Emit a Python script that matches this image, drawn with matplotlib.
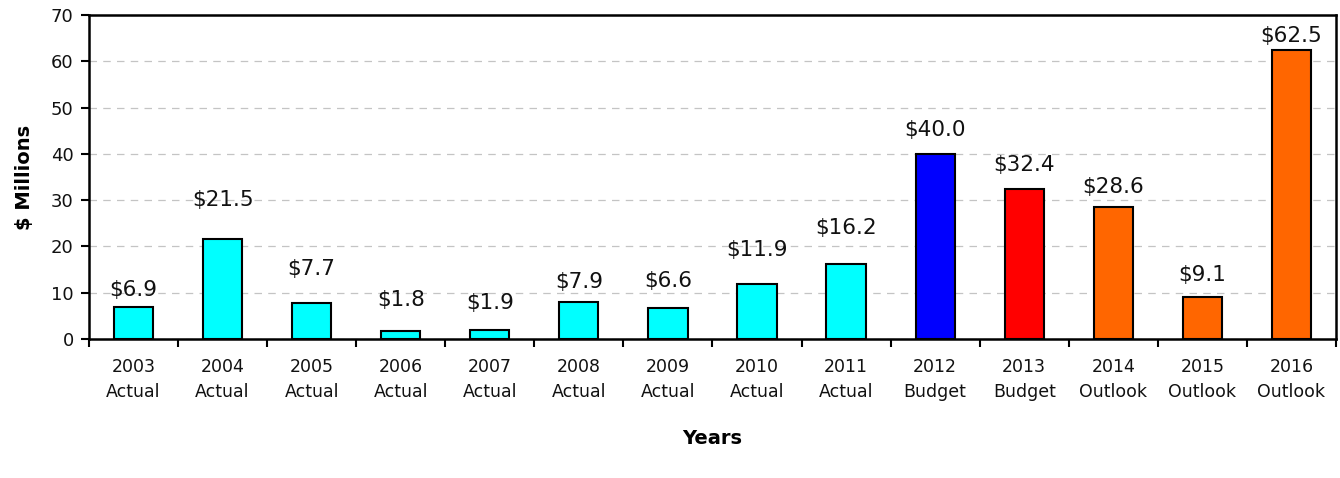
import matplotlib
matplotlib.use("Agg")
import matplotlib.pyplot as plt
import numpy as np

years = ["2003", "2004", "2005", "2006", "2007", "2008", "2009",
         "2010", "2011", "2012", "2013", "2014", "2015", "2016"]
kinds = ["Actual"] * 9 + ["Budget", "Budget", "Outlook", "Outlook", "Outlook"]
values = [6.9, 21.5, 7.7, 1.8, 1.9, 7.9, 6.6, 11.9, 16.2, 40.0, 32.4, 28.6, 9.1, 62.5]

# colour per kind of figure; 2013 budget gets its own red
kind_colors = {"Actual": "#00FFFF", "Budget": "#0000FF", "Outlook": "#FF6600"}
colors = [kind_colors[k] for k in kinds]
colors[10] = "#FF0000"

# label heights were hand-placed, so keep them separately
label_y = [10.6, 30.0, 15.2, 8.4, 7.8, 12.3, 12.5, 19.2, 24.0, 45.1, 37.6, 32.8, 13.8, 65.4]

plt.rcParams["font.family"] = ["DejaVu Sans"]

fig = plt.figure(figsize=(13.4, 4.78), dpi=100)
ax = fig.add_axes([0.0664, 0.2908, 0.9306, 0.6778])

x = np.arange(len(years))
ax.bar(x, values, width=0.44, color=colors, edgecolor="black", linewidth=1.5, zorder=3)

for xi, v, ly in zip(x, values, label_y):
    ax.text(xi, ly, f"${v:.1f}", ha="center", va="center", fontsize=15.5,
            color="#111111", zorder=4)

ax.set_xlim(-0.5, len(years) - 0.5)
ax.set_ylim(0, 70)
ax.set_yticks(range(0, 71, 10))
ax.set_yticklabels([str(t) for t in range(0, 71, 10)], fontsize=13, color="#111111")

ax.set_xticks(x)
ax.set_xticklabels([f"{y}\n{k}" for y, k in zip(years, kinds)], fontsize=12.5,
                   linespacing=1.5, color="#111111")
ax.tick_params(axis="x", which="major", length=0, pad=14)
ax.set_xticks(np.arange(-0.5, len(years), 1.0), minor=True)
ax.tick_params(axis="x", which="minor", length=6, width=1.5, direction="out")
ax.tick_params(axis="y", length=6, width=1.5, direction="out", pad=5)

ax.yaxis.grid(True, linestyle=(0, (6, 5)), color="#C4C4C4", linewidth=0.9, zorder=0)
for s in ax.spines.values():
    s.set_linewidth(1.8)

ax.set_ylabel("$ Millions", fontsize=14, fontweight="bold", labelpad=12)
ax.set_xlabel("Years", fontsize=14, fontweight="bold", labelpad=20)

plt.savefig("out.png", dpi=100)
